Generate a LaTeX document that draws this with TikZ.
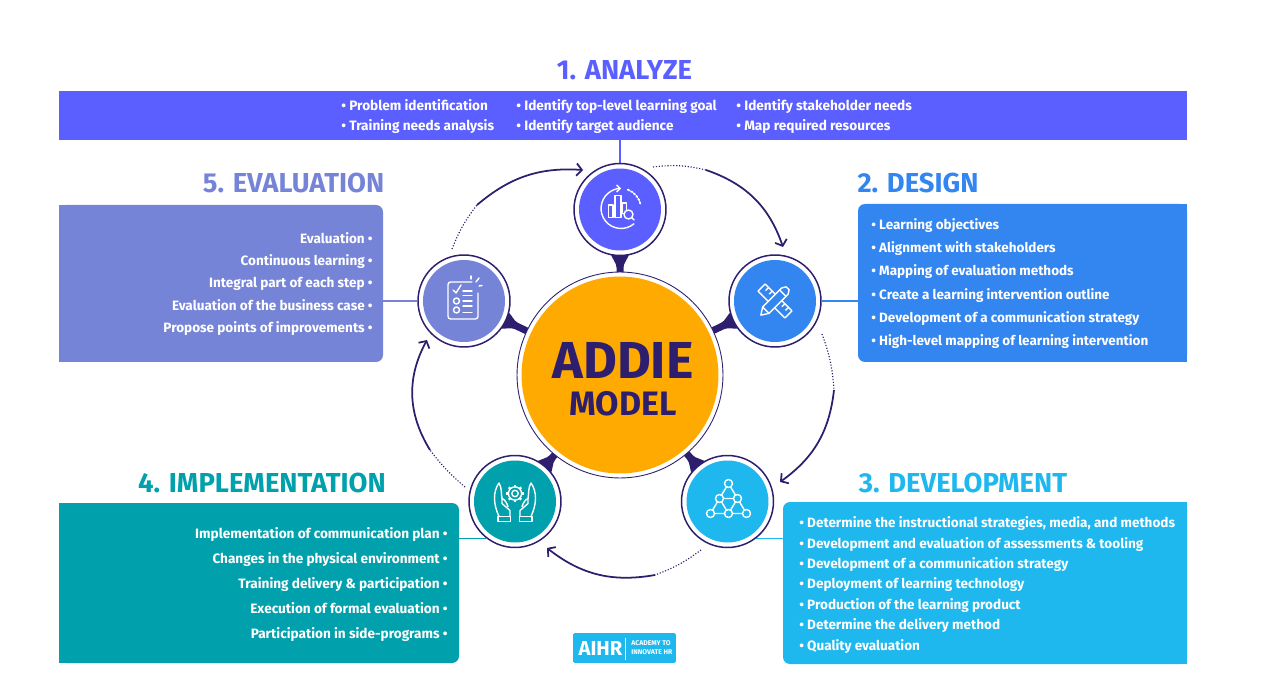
\documentclass[tikz,border=0pt]{standalone}
\usepackage{fontspec}
\setmainfont{Fira Sans}
\usetikzlibrary{backgrounds,arrows.meta}

\definecolor{navy}{HTML}{2E1F6E}
\definecolor{gold}{HTML}{FFAA00}
\definecolor{col1}{HTML}{5B5FFF}
\definecolor{col2}{HTML}{3385F0}
\definecolor{col3}{HTML}{1EB8EF}
\definecolor{col4}{HTML}{00A0AC}
\definecolor{col5}{HTML}{7684D8}

\tikzset{
  panel/.style 2 args={inner sep=0pt, minimum width=#1*0.02cm, minimum height=#2*0.02cm, rounded corners=0.14cm},
  listtext/.style={text=white, inner sep=0pt},
  heading/.style={font=\fontsize{15.6}{18}\bfseries\selectfont},
  ring/.style={circle, fill=white, draw=navy, line width=0.85pt, minimum size=1.84cm, inner sep=0pt},
  disc/.style={circle, minimum size=1.64cm, inner sep=0pt},
  arcline/.style={navy, line width=1pt},
  arcdots/.style={navy, line width=0.65pt, densely dotted},
  link/.style={line width=0.6pt},
  icon/.style={white, line width=0.8pt, line cap=round, line join=round}
}

\begin{document}
\begin{tikzpicture}[x=0.02cm, y=0.02cm, >={Straight Barb[length=3pt,width=7pt]}]
    \useasboundingbox (0,0) rectangle (1275,687);

    \node[panel={1128}{49}, fill=col1, rounded corners=0pt] (box1) at (623,571.5) {};
    \node[panel={329}{158}, fill=col2] (box2) at (1022.5,404) {};
    \node[panel={404}{162}, fill=col3] (box3) at (985,104) {};
    \node[panel={400}{160}, fill=col4] (box4) at (259,104) {};
    \node[panel={324}{157}, fill=col5] (box5) at (221,403.5) {};

    \fill[col2] (box2.north east) rectangle ([xshift=-0.16cm]box2.south east);
    \fill[col3] (box3.north east) rectangle ([xshift=-0.16cm]box3.south east);
    \fill[col4] (box4.north west) rectangle ([xshift=0.16cm]box4.south west);
    \fill[col5] (box5.north west) rectangle ([xshift=0.16cm]box5.south west);

    \node[listtext, anchor=west, align=left, font=\fontsize{7.75}{11.3}\bfseries\selectfont] (list1a) at (341,570.5) {• Problem identification\\• Training needs analysis};
    \node[listtext, anchor=west, align=left, font=\fontsize{7.75}{11.3}\bfseries\selectfont] (list1b) at (516,570.5) {• Identify top-level learning goal\\• Identify target audience};
    \node[listtext, anchor=west, align=left, font=\fontsize{7.75}{11.3}\bfseries\selectfont] (list1c) at (736,570.5) {• Identify stakeholder needs\\• Map required resources};
    \node[listtext, anchor=west, align=left, font=\fontsize{7.67}{13.2}\bfseries\selectfont] (list2) at (871,403.5) {%
      • Learning objectives\\
      • Alignment with stakeholders\\
      • Mapping of evaluation methods\\
      • Create a learning intervention outline\\
      • Development of a communication strategy\\
      • High-level mapping of learning intervention};
    \node[listtext, anchor=west, align=left, font=\fontsize{7.7}{11.62}\bfseries\selectfont] (list3) at (799,102) {%
      • Determine the instructional strategies, media, and methods\\
      • Development and evaluation of assessments \& tooling\\
      • Development of a communication strategy\\
      • Deployment of learning technology\\
      • Production of the learning product\\
      • Determine the delivery method\\
      • Quality evaluation};
    \node[listtext, anchor=east, align=right, font=\fontsize{7.74}{14.3}\bfseries\selectfont] (list4) at (448,102.5) {%
      Implementation of communication plan •\\
      Changes in the physical environment •\\
      Training delivery \& participation •\\
      Execution of formal evaluation •\\
      Participation in side-programs •};
    \node[listtext, anchor=east, align=right, font=\fontsize{7.7}{12.64}\bfseries\selectfont] (list5) at (373,403) {%
      Evaluation •\\
      Continuous learning •\\
      Integral part of each step •\\
      Evaluation of the business case •\\
      Propose points of improvements •};

    \node[heading, text=col1] (head1) at (624.5,617) {1. ANALYZE};
    \node[heading, text=col2] (head2) at (918,504) {2. DESIGN};
    \node[heading, text=col3] (head3) at (963,204) {3. DEVELOPMENT};
    \node[heading, text=col4] (head4) at (262,204) {4. IMPLEMENTATION};
    \node[heading, text=col5] (head5) at (293.5,504) {5. EVALUATION};

    \foreach \n/\x/\y in {1/620/477.5, 2/775/386, 3/727.5/185.5, 4/515/185.5, 5/464/386} {
      \node[ring] (c\n) at (\x,\y) {};
      \node[disc, fill=col\n] (d\n) at (c\n) {};
    }

    \node[circle, fill=white, draw=navy, line width=0.5pt, minimum size=4.12cm, inner sep=0pt] (c0) at (620,312) {};
    \node[circle, fill=gold, minimum size=3.94cm, inner sep=0pt] (d0) at (c0) {};
    \node[text=navy, align=center, font=\fontsize{19.3}{21}\bfseries\selectfont, inner sep=0pt] (title) at (623,308) {{\fontsize{29.6}{21}\selectfont ADDIE}\\MODEL};

    \begin{scope}[on background layer]
      \draw[link, col1] (c1) -- (c1 |- box1.south);
      \draw[link, col2] (c2) -- (c2 -| box2.west);
      \draw[link, col5] (c5) -- (c5 -| box5.east);
      \draw[link, col3] (c3.-52) -- (c3.-52 -| box3.west);
      \draw[link, col4] (c4.-128) -- (c4.-128 -| box4.east);
      \foreach \n/\ang in {1/-90, 2/205.5, 3/130.4, 4/49.6, 5/-25.5} {
        \fill[navy, shift={(c\n)}, rotate=\ang] (42,-10) .. controls (50,-8) and (53,-3.5) .. (58,-3.5) -- (80,-3.5) -- (80,3.5) -- (58,3.5) .. controls (53,3.5) and (50,8) .. (42,10) -- cycle;
      }
    \end{scope}

    \coordinate (a1) at (653,520);
    \coordinate (a2) at (706,517);
    \coordinate (a3) at (783,440);
    \coordinate (b1) at (822,353);
    \coordinate (b2) at (834,297);
    \coordinate (b3) at (780,205);
    \coordinate (e1) at (701,137);
    \coordinate (e2) at (655,112);
    \coordinate (e3) at (547,139);
    \coordinate (f1) at (465,200);
    \coordinate (f2) at (430,237);
    \coordinate (f3) at (427,347);
    \coordinate (g1) at (452,438);
    \coordinate (g2) at (477,482);
    \coordinate (g3) at (583,517);

    \draw[arcdots] (a1) to[bend left=10] (a2);
    \draw[arcline, ->] (a2) to[bend left=26] (a3);
    \draw[arcdots] (b1) to[bend left=8] (b2);
    \draw[arcline, ->] (b2) to[bend left=24] (b3);
    \draw[arcdots] (e1) to[bend left=8] (e2);
    \draw[arcline, ->] (e2) to[bend left=24] (e3);
    \draw[arcdots] (f1) to[bend left=6] (f2);
    \draw[arcline, ->] (f2) to[bend left=30] (f3);
    \draw[arcdots] (g1) to[bend left=8] (g2);
    \draw[arcline, ->] (g2) to[bend left=22] (g3);

    \begin{scope}[shift={(c1)}, icon]
      \draw[->, >={Straight Barb[length=2pt,width=4pt]}] (13.9,-14.3) arc[start angle=-50, end angle=-270, radius=20];
      \draw[densely dotted, line width=1pt] (7.8,19.8) arc[start angle=70, end angle=10, radius=20];
      \draw (-11.5,-8) rectangle (-7,4.3);
      \draw (-5,-8) rectangle (1,14);
      \draw (2.5,-4) rectangle (6.5,6.5);
      \draw[fill=col1] (8.5,-5) circle (4.5);
      \draw (11.7,-8.2) -- (14,-10.5);
    \end{scope}

    \begin{scope}[shift={(c2)}, icon]
      \draw[rotate=-45] (-19,-5) rectangle (19,5);
      \foreach \t in {-14,-9,9,14} {
        \draw[rotate=-45] (\t,5) -- (\t,1);
      }
      \fill[col2, rotate=45] (-12,-5) rectangle (14,5);
      \draw[rotate=45] (-20,0) -- (-13,-4.5) -- (14,-4.5) -- (18,-2) -- (18,2) -- (14,4.5) -- (-13,4.5) -- cycle;
      \draw[rotate=45] (11,-4.5) -- (11,4.5) (-13,-4.5) -- (-13,4.5);
    \end{scope}

    \begin{scope}[shift={(c3)}, icon]
      \draw (1,18) -- (-17,-12) -- (19,-12) -- cycle;
      \draw (-8,3) -- (10,3) -- (1,-12) -- cycle;
      \foreach \px/\py in {1/18, -8/3, 10/3, -17/-12, 1/-12, 19/-12} {
        \filldraw[fill=col3] (\px,\py) circle (4);
      }
    \end{scope}

    \begin{scope}[shift={(c4)}, icon]
      \draw (0,8) circle (3.2);
      \draw (0,8) circle (6.6);
      \foreach \t in {0,45,...,315} {
        \draw[line width=1.4pt, line cap=butt] (0,8) ++(\t:6.6) -- ++(\t:2.2);
      }
      \foreach \s in {1,-1} {
        \begin{scope}[xscale=\s]
          \draw (-4.5,-15) rectangle (-17,-20);
          \draw (-16,-15) .. controls (-22,-2) and (-22,10) .. (-16,18.5) .. controls (-13,14) and (-14,8) .. (-13,3) -- (-13,-2) -- (-5,-9) -- (-5,-15);
          \draw (-13,3) .. controls (-10,2) and (-8,-2) .. (-7,-5);
        \end{scope}
      }
    \end{scope}

    \begin{scope}[shift={(c5)}, icon]
      \draw[rounded corners=1.5pt] (8,19) -- (-16,19) -- (-16,-18) -- (14,-18) -- (14,8);
      \draw (-11,11) -- (-8,8) -- (-3,16);
      \draw (-7.5,0) circle (3);
      \draw (-7.5,-9) circle (3);
      \foreach \ly in {10,5.5,0,-5,-11.5} {
        \draw (-1,\ly) -- (8,\ly);
      }
      \draw (7,22) -- (7,25);
      \draw (12,19) -- (15,23);
      \draw (15,15) -- (18,15.5);
    \end{scope}

    \node[fill=col3, rounded corners=0.03cm, minimum width=2.06cm, minimum height=0.6cm, inner sep=0pt] (logo) at (624.5,39) {};
    \node[text=white, font=\fontsize{11.5}{14}\bfseries\selectfont, inner sep=0pt] (logoname) at (600.5,38.5) {AIHR};
    \node[text=white, anchor=west, align=left, font=\fontsize{3.9}{5.2}\bfseries\selectfont, inner sep=0pt] (logotag) at (631,39) {ACADEMY TO\\INNOVATE HR};
    \draw[white, line width=0.4pt] (logoname.east) ++(3,11) -- ++(0,-22);

\end{tikzpicture}
\end{document}
